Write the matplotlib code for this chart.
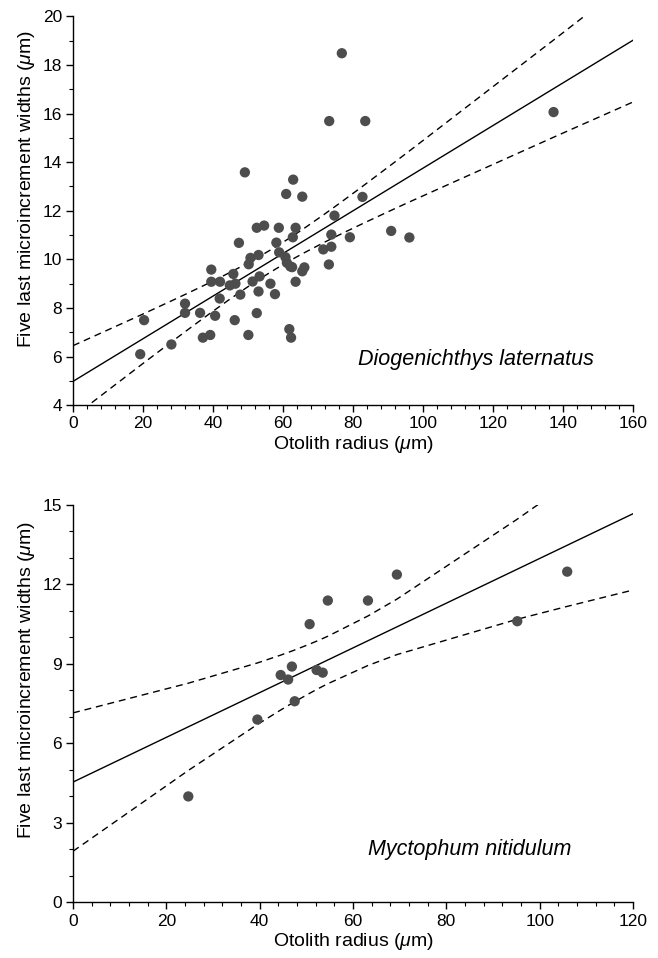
import numpy as np
import matplotlib
matplotlib.use("Agg")
import matplotlib.pyplot as plt
from matplotlib.ticker import MultipleLocator

plt.rcParams["font.family"] = ["Liberation Sans", "DejaVu Sans"]
plt.rcParams["mathtext.fontset"] = "custom"
plt.rcParams["mathtext.rm"] = "Liberation Sans"
plt.rcParams["mathtext.it"] = "Liberation Sans:italic"

# Diogenichthys laternatus
dl_radius = [20.3, 19.2, 28.1, 32.0, 32.0, 36.3, 37.1, 39.2, 39.5, 39.5,
             40.6, 41.9, 42.0, 44.8, 45.8, 46.2, 46.4, 47.4, 47.8, 50.1,
             50.2, 50.7, 51.3, 52.5, 52.5, 53.0, 53.0, 53.3, 54.6, 56.4,
             57.7, 58.1, 58.8, 58.9, 60.7, 60.9, 61.1, 61.8, 62.1, 62.3,
             62.6, 62.8, 62.9, 63.6, 63.6, 65.5, 65.5, 66.1, 71.5, 73.1,
             73.8, 73.8, 74.7, 79.1, 82.7, 76.8, 73.2, 83.5, 137.3, 90.9,
             96.1, 49.1]
dl_width = [7.50, 6.10, 6.50, 8.18, 7.80, 7.80, 6.78, 6.89, 9.58, 9.08,
            7.68, 8.39, 9.08, 8.93, 9.40, 7.50, 9.00, 10.68, 8.55, 6.89,
            9.80, 10.06, 9.09, 11.30, 7.79, 8.68, 10.18, 9.30, 11.39, 9.00,
            8.57, 10.69, 11.30, 10.29, 10.09, 12.69, 9.86, 7.13, 9.71, 6.78,
            9.68, 10.91, 13.28, 9.08, 11.30, 12.58, 9.51, 9.67, 10.41, 9.79,
            10.52, 11.02, 11.80, 10.91, 12.57, 18.48, 15.69, 15.69, 16.06, 11.17,
            10.90, 13.58]

# Myctophum nitidulum
mn_radius = [24.7, 39.5, 44.5, 46.1, 46.9, 47.5, 50.7, 52.2, 53.5, 54.6,
             63.2, 69.4, 95.2, 105.9]
mn_width = [4.00, 6.90, 8.58, 8.41, 8.90, 7.59, 10.50, 8.77, 8.67, 11.39,
            11.39, 12.37, 10.61, 12.48]

# t values (95%) for n-2 degrees of freedom
t_dl = 2.000
t_mn = 2.179


def draw_panel(ax, xs, ys, t, xmax, ymin, ymax, ystep, name, name_xy, ylab_y):
    xs = np.array(xs)
    ys = np.array(ys)
    n = len(xs)
    slope, icpt = np.polyfit(xs, ys, 1)
    resid = ys - (icpt + slope * xs)
    s = np.sqrt(np.sum(resid ** 2) / (n - 2))
    sxx = np.sum((xs - xs.mean()) ** 2)

    # band evaluated at data positions and joined, as in the original
    xb = np.unique(np.concatenate([[0.0], xs, [xmax]]))
    fit = icpt + slope * xb
    half = t * s * np.sqrt(1.0 / n + (xb - xs.mean()) ** 2 / sxx)

    ax.plot([0, xmax], [icpt, icpt + slope * xmax], color="black", lw=1.0)
    ax.plot(xb, fit + half, color="black", lw=1.0, ls=(0, (5, 3.5)))
    ax.plot(xb, fit - half, color="black", lw=1.0, ls=(0, (5, 3.5)))
    ax.scatter(xs, ys, s=55, color="#4d4d4d", edgecolors="none", zorder=3)

    ax.set_xlim(0, xmax)
    ax.set_ylim(ymin, ymax)
    ax.xaxis.set_major_locator(MultipleLocator(20))
    ax.xaxis.set_minor_locator(MultipleLocator(4))
    ax.yaxis.set_major_locator(MultipleLocator(ystep))
    ax.yaxis.set_minor_locator(MultipleLocator(1))
    for side in ["top", "right"]:
        ax.spines[side].set_visible(False)
    for side in ["left", "bottom"]:
        ax.spines[side].set_linewidth(1.0)
    ax.tick_params(which="major", direction="out", length=5, width=1.0,
                   labelsize=12.5, pad=3)
    ax.tick_params(which="minor", direction="out", length=3, width=0.8)
    ax.set_xlabel(r"Otolith radius ($\mathit{\mu}$m)", fontsize=14, labelpad=2)
    ax.set_ylabel(r"Five last microincrement widths ($\mathit{\mu}$m)",
                  fontsize=14, labelpad=4, y=ylab_y)
    ax.text(name_xy[0], name_xy[1], name, fontsize=15.5, style="italic",
            ha="center", va="center")


fig = plt.figure(figsize=(6.58, 9.58), dpi=100)
ax1 = fig.add_axes([0.111, 0.577, 0.851, 0.406])
ax2 = fig.add_axes([0.111, 0.058, 0.851, 0.415])

draw_panel(ax1, dl_radius, dl_width, t_dl, 160, 4, 20, 2,
           "Diogenichthys laternatus", (115, 5.9), 0.555)
draw_panel(ax2, mn_radius, mn_width, t_mn, 120, 0, 15, 3,
           "Myctophum nitidulum", (85, 2.0), 0.56)

fig.savefig("out.png", dpi=100)
